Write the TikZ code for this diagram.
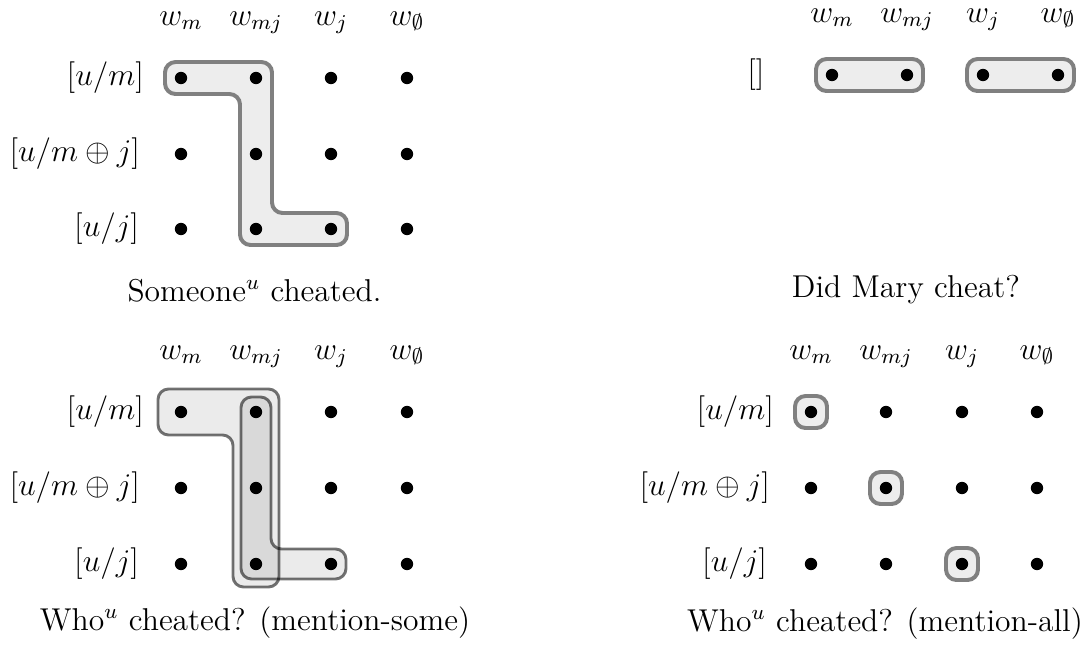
\documentclass[tikz,border=0pt]{standalone}
\begin{document}
\begin{tikzpicture}[x=0.38pt,y=-0.38pt,
  every node/.style={font=\fontsize{12}{14.4}\selectfont, inner sep=0pt, outer sep=0pt},
  dotnode/.style={circle, fill=black, minimum size=4.7pt},
  hl/.style={draw=black!50, fill=black!7, line width=1.5pt, rounded corners=4pt},
  hlt/.style={draw=black, draw opacity=0.55, fill=black, fill opacity=0.08, line width=1.1pt, rounded corners=4pt},
  collab/.style={anchor=base},
  rowlab/.style={anchor=east},
  capt/.style={anchor=base}]
\useasboundingbox (0,0) rectangle (1091,646);

% ---------- top left: Someone cheated ----------
\draw[hl] (165,62) -- (272,62) -- (272,213) -- (347,213) -- (347,245) -- (240,245) -- (240,94) -- (165,94) -- cycle;
\foreach \c [count=\i] in {181,256,331,407}
  \foreach \r [count=\j] in {78,154,229}
    \node[dotnode] (tl-\j-\i) at (\c,\r) {};
\node[collab] (tl-c1) at (181,25) {$w_m$};
\node[collab] (tl-c2) at (256,25) {$w_{mj}$};
\node[collab] (tl-c3) at (331,25) {$w_j$};
\node[collab] (tl-c4) at (407,25) {$w_\emptyset$};
\node[rowlab] (tl-r1) at (144,78) {$[u/m]$};
\node[rowlab] (tl-r2) at (140,154) {$[u/m\oplus j]$};
\node[rowlab] (tl-r3) at (139,229) {$[u/j]$};
\node[capt] (tl-cap) at (254.5,301) {Someone$^u$ cheated.};

% ---------- top right: Did Mary cheat? ----------
\draw[hl] (816,59) rectangle (923,91);
\draw[hl] (967,59) rectangle (1074,91);
\foreach \c [count=\i] in {832,907,983,1058}
  \node[dotnode] (tr-1-\i) at (\c,75) {};
\node[collab] (tr-c1) at (832,22) {$w_m$};
\node[collab] (tr-c2) at (907,22) {$w_{mj}$};
\node[collab] (tr-c3) at (983,22) {$w_j$};
\node[collab] (tr-c4) at (1058,22) {$w_\emptyset$};
\node (tr-r1) at (756,75) {$[]$};
\node[capt] (tr-cap) at (906,297) {Did Mary cheat?};

% ---------- bottom left: mention-some ----------
\draw[hlt] (158,389) -- (279,389) -- (279,587) -- (233,587) -- (233,435) -- (158,435) -- cycle;
\draw[hlt] (241,397) -- (271,397) -- (271,549) -- (346,549) -- (346,579) -- (241,579) -- cycle;
\foreach \c [count=\i] in {181,256,331,407}
  \foreach \r [count=\j] in {412,488,564}
    \node[dotnode] (bl-\j-\i) at (\c,\r) {};
\node[collab] (bl-c1) at (181,359) {$w_m$};
\node[collab] (bl-c2) at (256,359) {$w_{mj}$};
\node[collab] (bl-c3) at (331,359) {$w_j$};
\node[collab] (bl-c4) at (407,359) {$w_\emptyset$};
\node[rowlab] (bl-r1) at (144,412) {$[u/m]$};
\node[rowlab] (bl-r2) at (140,488) {$[u/m\oplus j]$};
\node[rowlab] (bl-r3) at (139,564) {$[u/j]$};
\node[capt] (bl-cap) at (255,630) {Who$^u$ cheated? (mention-some)};

% ---------- bottom right: mention-all ----------
\draw[hl] (795,396) rectangle (827,428);
\draw[hl] (870,472) rectangle (902,504);
\draw[hl] (946,548) rectangle (978,580);
\foreach \c [count=\i] in {811,886,962,1037}
  \foreach \r [count=\j] in {412,488,564}
    \node[dotnode] (br-\j-\i) at (\c,\r) {};
\node[collab] (br-c1) at (811,359) {$w_m$};
\node[collab] (br-c2) at (886,359) {$w_{mj}$};
\node[collab] (br-c3) at (962,359) {$w_j$};
\node[collab] (br-c4) at (1037,359) {$w_\emptyset$};
\node[rowlab] (br-r1) at (774,412) {$[u/m]$};
\node[rowlab] (br-r2) at (770,488) {$[u/m\oplus j]$};
\node[rowlab] (br-r3) at (767,564) {$[u/j]$};
\node[capt] (br-cap) at (885,631) {Who$^u$ cheated? (mention-all)};
\end{tikzpicture}
\end{document}
